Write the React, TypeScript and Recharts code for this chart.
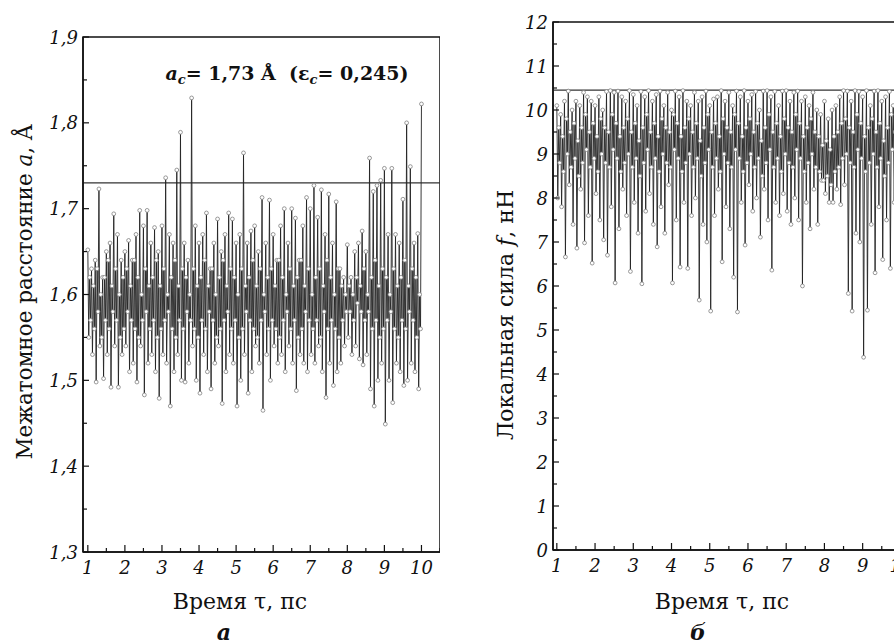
import React from 'react'
import { LineChart, Line, XAxis, YAxis, ReferenceLine, ReferenceArea } from 'recharts'

// sampling of the time axis (ps): peak, dip, band high, band low, next peak ...
const TIME_START = 1
const TIME_STEP = 0.025

// panel a: interatomic distance, Å
const distPeaks = [
  1.652, 1.63, 1.64, 1.723, 1.62, 1.65, 1.66, 1.694, 1.67, 1.64,
  1.65, 1.663, 1.64, 1.67, 1.698, 1.68, 1.698, 1.66, 1.678, 1.65,
  1.68, 1.736, 1.67, 1.66, 1.745, 1.789, 1.66, 1.64, 1.829, 1.68,
  1.66, 1.67, 1.695, 1.63, 1.66, 1.688, 1.65, 1.67, 1.695, 1.688,
  1.66, 1.67, 1.765, 1.66, 1.674, 1.68, 1.65, 1.713, 1.66, 1.71,
  1.67, 1.64, 1.68, 1.7, 1.66, 1.7, 1.689, 1.64, 1.68, 1.713,
  1.7, 1.727, 1.69, 1.722, 1.67, 1.717, 1.66, 1.708, 1.63, 1.62,
  1.658, 1.62, 1.65, 1.66, 1.674, 1.65, 1.759, 1.72, 1.727, 1.733,
  1.747, 1.67, 1.747, 1.67, 1.66, 1.711, 1.8, 1.749, 1.66, 1.671,
  1.822
]
const distDips = [
  1.55, 1.53, 1.498, 1.54, 1.502, 1.53, 1.492, 1.54, 1.492, 1.53,
  1.54, 1.51, 1.52, 1.498, 1.54, 1.483, 1.52, 1.53, 1.51, 1.479,
  1.53, 1.52, 1.47, 1.51, 1.53, 1.5, 1.498, 1.52, 1.54, 1.5,
  1.485, 1.53, 1.51, 1.49, 1.52, 1.54, 1.473, 1.51, 1.53, 1.52,
  1.47, 1.5, 1.53, 1.485, 1.51, 1.54, 1.52, 1.465, 1.53, 1.5,
  1.54, 1.52, 1.53, 1.51, 1.54, 1.52, 1.488, 1.53, 1.52, 1.51,
  1.53, 1.52, 1.54, 1.51, 1.48, 1.52, 1.494, 1.51, 1.52, 1.54,
  1.55, 1.53, 1.54, 1.525, 1.518, 1.53, 1.49, 1.47, 1.5, 1.52,
  1.449, 1.5, 1.474, 1.52, 1.51, 1.494, 1.5, 1.52, 1.51, 1.49
]
const distBandHigh = [
  1.62, 1.61, 1.63, 1.6, 1.62, 1.64, 1.61, 1.63, 1.6, 1.62,
  1.63, 1.61, 1.64, 1.62, 1.6, 1.63, 1.61, 1.62, 1.64, 1.61,
  1.63, 1.6, 1.62, 1.64, 1.61, 1.63, 1.62, 1.6, 1.63, 1.61,
  1.62, 1.64, 1.61, 1.63, 1.6, 1.62, 1.64, 1.61, 1.63, 1.62,
  1.6, 1.63, 1.61, 1.62, 1.64, 1.61, 1.63, 1.6, 1.62, 1.63,
  1.61, 1.64, 1.62, 1.6, 1.63, 1.61, 1.62, 1.64, 1.61, 1.63,
  1.6, 1.62, 1.63, 1.61, 1.64, 1.62, 1.6, 1.63, 1.61, 1.6,
  1.61, 1.6, 1.62, 1.61, 1.63, 1.6, 1.62, 1.64, 1.61, 1.63,
  1.62, 1.6, 1.63, 1.61, 1.62, 1.64, 1.61, 1.63, 1.62, 1.6
]
const distBandLow = [
  1.57, 1.56, 1.58, 1.55, 1.57, 1.56, 1.58, 1.57, 1.55, 1.56,
  1.58, 1.57, 1.56, 1.55, 1.57, 1.58, 1.56, 1.57, 1.55, 1.56,
  1.57, 1.58, 1.56, 1.55, 1.57, 1.56, 1.58, 1.57, 1.56, 1.55,
  1.57, 1.56, 1.58, 1.57, 1.55, 1.56, 1.57, 1.58, 1.56, 1.57,
  1.55, 1.56, 1.58, 1.57, 1.56, 1.55, 1.57, 1.58, 1.56, 1.57,
  1.56, 1.55, 1.57, 1.58, 1.56, 1.57, 1.55, 1.56, 1.58, 1.57,
  1.56, 1.57, 1.55, 1.58, 1.56, 1.57, 1.56, 1.55, 1.57, 1.58,
  1.58, 1.57, 1.59, 1.58, 1.57, 1.58, 1.56, 1.57, 1.55, 1.56,
  1.57, 1.58, 1.56, 1.55, 1.57, 1.56, 1.58, 1.57, 1.55, 1.56
]

// panel б: local force, nN
const forcePeaks = [
  10.1, 9.9, 10.2, 10.43, 10.0, 10.2, 10.1, 10.4, 10.3, 10.2,
  10.1, 10.3, 10.0, 10.42, 10.44, 10.4, 10.43, 10.3, 10.2, 10.44,
  10.35, 10.1, 10.42, 10.3, 10.44, 10.2, 10.35, 10.43, 10.1, 10.4,
  10.0, 10.43, 10.3, 10.44, 10.2, 10.1, 10.4, 10.2, 10.3, 10.43,
  10.1, 10.25, 10.3, 10.44, 10.2, 10.4, 10.1, 10.43, 10.3, 10.44,
  10.2, 10.35, 10.42, 10.0, 10.43, 10.44, 10.3, 10.42, 10.1, 10.43,
  10.44, 10.2, 10.4, 10.43, 10.2, 10.3, 10.1, 10.4, 10.0, 9.9,
  10.2, 9.8, 10.0, 10.1, 10.3, 10.44, 10.43, 10.2, 10.44, 10.42,
  10.3, 10.44, 10.1, 10.43, 10.44, 10.2, 10.3, 10.42, 10.1, 10.3,
  10.0, 9.8, 10.0
]
const forceDips = [
  8.0, 7.8, 6.66, 8.3, 7.4, 6.86, 8.2, 6.98, 7.6, 6.52,
  8.1, 7.5, 7.05, 6.7, 7.8, 6.07, 7.3, 8.2, 7.6, 6.33,
  7.9, 7.2, 6.05, 7.7, 8.1, 7.4, 6.89, 7.8, 7.2, 8.3,
  6.07, 7.5, 6.43, 7.9, 6.4, 7.6, 8.0, 5.68, 7.4, 7.0,
  5.43, 7.6, 8.2, 6.55, 7.8, 7.3, 6.2, 5.41, 7.9, 6.93,
  8.3, 7.7, 8.0, 7.11, 8.2, 7.5, 6.36, 7.9, 7.6, 8.1,
  7.7, 7.4, 8.0, 7.5, 6.0, 7.9, 7.3, 8.2, 7.4, 8.4,
  8.1, 7.9, 7.9, 8.2, 7.85, 8.3, 5.83, 5.43, 7.2, 7.0,
  4.38, 5.45, 7.4, 6.3, 7.8, 6.6, 7.5, 6.4, 7.9, 6.6,
  8.2, 4.93
]
const forceBandHigh = [
  9.6, 9.4, 9.8, 9.5, 9.7, 9.3, 9.6, 9.9, 9.5, 9.7,
  9.4, 9.8, 9.6, 9.5, 9.9, 9.7, 9.4, 9.6, 9.8, 9.5,
  9.7, 9.3, 9.6, 9.9, 9.5, 9.7, 9.4, 9.8, 9.6, 9.5,
  9.9, 9.7, 9.4, 9.6, 9.8, 9.5, 9.7, 9.3, 9.6, 9.9,
  9.5, 9.7, 9.4, 9.8, 9.6, 9.5, 9.9, 9.7, 9.4, 9.6,
  9.8, 9.5, 9.7, 9.3, 9.6, 9.9, 9.5, 9.7, 9.4, 9.8,
  9.6, 9.5, 9.9, 9.7, 9.4, 9.6, 9.8, 9.5, 9.4, 9.2,
  9.3, 9.1, 9.4, 9.5, 9.7, 9.8, 9.6, 9.5, 9.9, 9.7,
  9.4, 9.6, 9.8, 9.5, 9.7, 9.3, 9.6, 9.9, 9.5, 9.7,
  9.4, 9.6
]
const forceBandLow = [
  8.8, 8.6, 9.0, 8.7, 8.9, 8.5, 8.8, 9.1, 8.7, 8.9,
  8.6, 9.0, 8.8, 8.7, 9.1, 8.9, 8.6, 8.8, 9.0, 8.7,
  8.9, 8.5, 8.8, 9.1, 8.7, 8.9, 8.6, 9.0, 8.8, 8.7,
  9.1, 8.9, 8.6, 8.8, 9.0, 8.7, 8.9, 8.5, 8.8, 9.1,
  8.7, 8.9, 8.6, 9.0, 8.8, 8.7, 9.1, 8.9, 8.6, 8.8,
  9.0, 8.7, 8.9, 8.5, 8.8, 9.1, 8.7, 8.9, 8.6, 9.0,
  8.8, 8.7, 9.1, 8.9, 8.6, 8.8, 9.0, 8.7, 8.6, 8.4,
  8.5, 8.3, 8.6, 8.7, 8.9, 9.0, 8.8, 8.7, 9.1, 8.9,
  8.6, 8.8, 9.0, 8.7, 8.9, 8.5, 8.8, 9.1, 8.7, 8.9,
  8.6, 8.8
]

const distCritical = 1.73
const forceCritical = 10.45

const distTicks = [1.3, 1.35, 1.4, 1.45, 1.5, 1.55, 1.6, 1.65, 1.7, 1.75, 1.8, 1.85, 1.9]
const forceTicks = [0, 0.5, 1, 1.5, 2, 2.5, 3, 3.5, 4, 4.5, 5, 5.5, 6, 6.5, 7, 7.5, 8, 8.5, 9, 9.5, 10, 10.5, 11, 11.5, 12]
const timeTicks = [1, 1.5, 2, 2.5, 3, 3.5, 4, 4.5, 5, 5.5, 6, 6.5, 7, 7.5, 8, 8.5, 9, 9.5, 10, 10.5]

function interleave(peaks: number[], dips: number[], bandHigh: number[], bandLow: number[]) {
  const rows: { t: number; v: number }[] = []
  const push = (v: number) => rows.push({ t: TIME_START + TIME_STEP * rows.length, v })
  for (let k = 0; k < peaks.length; k++) {
    push(peaks[k])
    if (k < dips.length) {
      push(dips[k])
      push(bandHigh[k])
      push(bandLow[k])
    }
  }
  return rows
}

const distData = interleave(distPeaks, distDips, distBandHigh, distBandLow)
const forceData = interleave(forcePeaks, forceDips, forceBandHigh, forceBandLow)

const FONT = '"DejaVu Serif", serif'
const INK = '#111'

const YTick = (fmt: (v: number) => string) => (props: any) => {
  const { x, y, payload, index } = props
  const major = index % 2 === 0
  return (
    <g>
      <line x1={x} y1={y} x2={x + (major ? 6 : 4)} y2={y} stroke={INK} strokeWidth={1.2} />
      {major && (
        <text x={x - 5} y={y + 6.5} textAnchor="end" fontSize={18} fontStyle="italic" fontFamily={FONT} fill={INK}>
          {fmt(payload.value)}
        </text>
      )}
    </g>
  )
}

const XTick = (props: any) => {
  const { x, y, payload, index } = props
  const major = index % 2 === 0
  return (
    <g>
      <line x1={x} y1={y} x2={x} y2={y - (major ? 7 : 4)} stroke={INK} strokeWidth={1.2} />
      {major && (
        <text x={x} y={y + 22} textAnchor="middle" fontSize={18} fontStyle="italic" fontFamily={FONT} fill={INK}>
          {payload.value}
        </text>
      )}
    </g>
  )
}

const commaFmt = (v: number) => v.toFixed(1).replace('.', ',')
const intFmt = (v: number) => String(v)

function Panel({ data, xDomain, yDomain, yTicks, yFmt, critical, width, left, top, bottom }: any) {
  return (
    <div style={{ position: 'absolute', left, top: 0 }}>
      <LineChart width={width} height={600} data={data} margin={{ top, right: 0, bottom, left: 0 }}>
        <XAxis
          dataKey="t"
          type="number"
          domain={xDomain}
          allowDataOverflow
          ticks={timeTicks}
          interval={0}
          tick={XTick}
          tickLine={false}
          tickSize={0}
          tickMargin={0}
          height={30}
          axisLine={{ stroke: INK, strokeWidth: 1.5 }}
        />
        <YAxis
          type="number"
          domain={yDomain}
          allowDataOverflow
          ticks={yTicks}
          interval={0}
          tick={YTick(yFmt)}
          tickLine={false}
          tickSize={0}
          tickMargin={0}
          width={83}
          axisLine={{ stroke: INK, strokeWidth: 1.5 }}
        />
        <ReferenceArea
          x1={xDomain[0]}
          x2={xDomain[1]}
          y1={yDomain[0]}
          y2={yDomain[1]}
          fill="none"
          stroke={INK}
          strokeWidth={1.5}
        />
        <ReferenceLine y={critical} stroke="#333" strokeWidth={1.2} />
        <Line
          dataKey="v"
          type="linear"
          stroke="#222"
          strokeWidth={0.9}
          dot={{ r: 1.9, fill: '#fff', stroke: '#808080', strokeWidth: 0.8 }}
          isAnimationActive={false}
        />
      </LineChart>
    </div>
  )
}

const centered = (left: number, top: number, extra: React.CSSProperties = {}): React.CSSProperties => ({
  position: 'absolute',
  left,
  top,
  transform: 'translate(-50%, -50%)',
  fontFamily: FONT,
  color: INK,
  whiteSpace: 'pre',
  lineHeight: 1,
  ...extra
})

export default function App() {
  return (
    <div style={{ position: 'absolute', left: 0, top: 0, width: 894, height: 644, overflow: 'hidden', background: '#fff' }}>
      <Panel
        data={distData}
        xDomain={[0.87, 10.5]}
        yDomain={[1.3, 1.9]}
        yTicks={distTicks}
        yFmt={commaFmt}
        critical={distCritical}
        width={440}
        left={0}
        top={37}
        bottom={18}
      />
      <Panel
        data={forceData}
        xDomain={[0.9, 10.5]}
        yDomain={[0, 12]}
        yTicks={forceTicks}
        yFmt={intFmt}
        critical={forceCritical}
        width={450}
        left={470}
        top={22}
        bottom={20}
      />

      <div style={centered(287, 75, { fontSize: 19, fontWeight: 'bold' })}>
        <i>a</i><sub style={{ fontSize: 13 }}><i>c</i></sub>= 1,73 Å  (ε<sub style={{ fontSize: 13 }}><i>c</i></sub>= 0,245)
      </div>

      <div style={centered(25, 292, { fontSize: 21.5, transform: 'translate(-50%, -50%) rotate(-90deg)' })}>
        Межатомное расстояние <i>a</i>, Å
      </div>
      <div style={centered(506, 315, { fontSize: 22, transform: 'translate(-50%, -50%) rotate(-90deg)' })}>
        Локальная сила <i>f</i>, нН
      </div>

      <div style={centered(240, 602, { fontSize: 22 })}>Время τ, пс</div>
      <div style={centered(722, 602, { fontSize: 22 })}>Время τ, пс</div>

      <div style={centered(224, 632, { fontSize: 22, fontStyle: 'italic', fontWeight: 'bold' })}>а</div>
      <div style={centered(698, 632, { fontSize: 22, fontStyle: 'italic', fontWeight: 'bold' })}>б</div>
    </div>
  )
}
